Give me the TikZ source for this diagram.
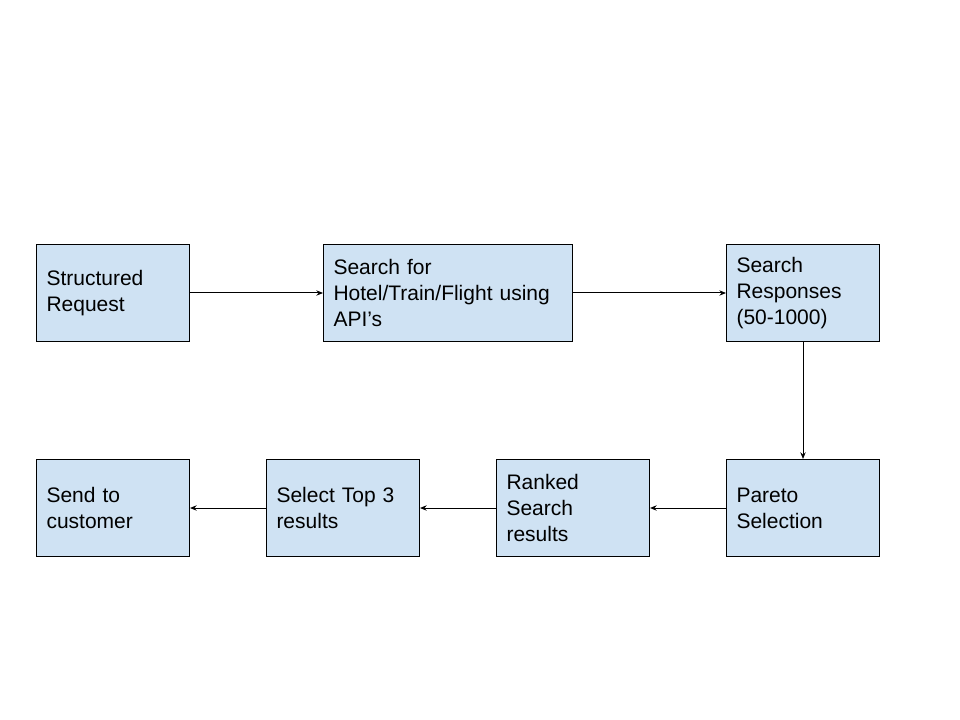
\documentclass[tikz,border=0pt]{standalone}
\usepackage{fontspec}
\setmainfont{Liberation Sans}
\usetikzlibrary{arrows.meta}
\definecolor{boxblue}{HTML}{CFE2F3}
\begin{document}
\begin{tikzpicture}[x=0.75pt,y=-0.75pt,
  box/.style={draw=black, fill=boxblue, line width=0.75pt, inner xsep=7.5pt, inner ysep=0pt,
    align=left, anchor=north west, minimum height=72.75pt,
    font=\fontsize{15.75}{19.5}\selectfont},
  narrow/.style={box, text width=99.75pt},
  wide/.style={box, text width=171.75pt},
  conn/.style={line width=0.75pt, -{Stealth[length=5pt,width=4pt]}}]
\useasboundingbox (0,0) rectangle (960,720);
\node[narrow] (req) at (36,244) {Structured\\Request};
\node[wide] (search) at (323,244) {Search for\\Hotel/Train/Flight using\\API’s};
\node[narrow] (resp) at (726,244) {Search\\Responses\\(50-1000)};
\node[narrow] (send) at (36,459) {Send to\\customer};
\node[narrow] (top) at (266,459) {Select Top 3\\results};
\node[narrow] (ranked) at (496,459) {Ranked\\Search\\results};
\node[narrow] (pareto) at (726,459) {Pareto\\Selection};
\draw[conn] (req) -- (search);
\draw[conn] (search) -- (resp);
\draw[conn] (resp) -- (pareto);
\draw[conn] (pareto) -- (ranked);
\draw[conn] (ranked) -- (top);
\draw[conn] (top) -- (send);
\end{tikzpicture}
\end{document}
